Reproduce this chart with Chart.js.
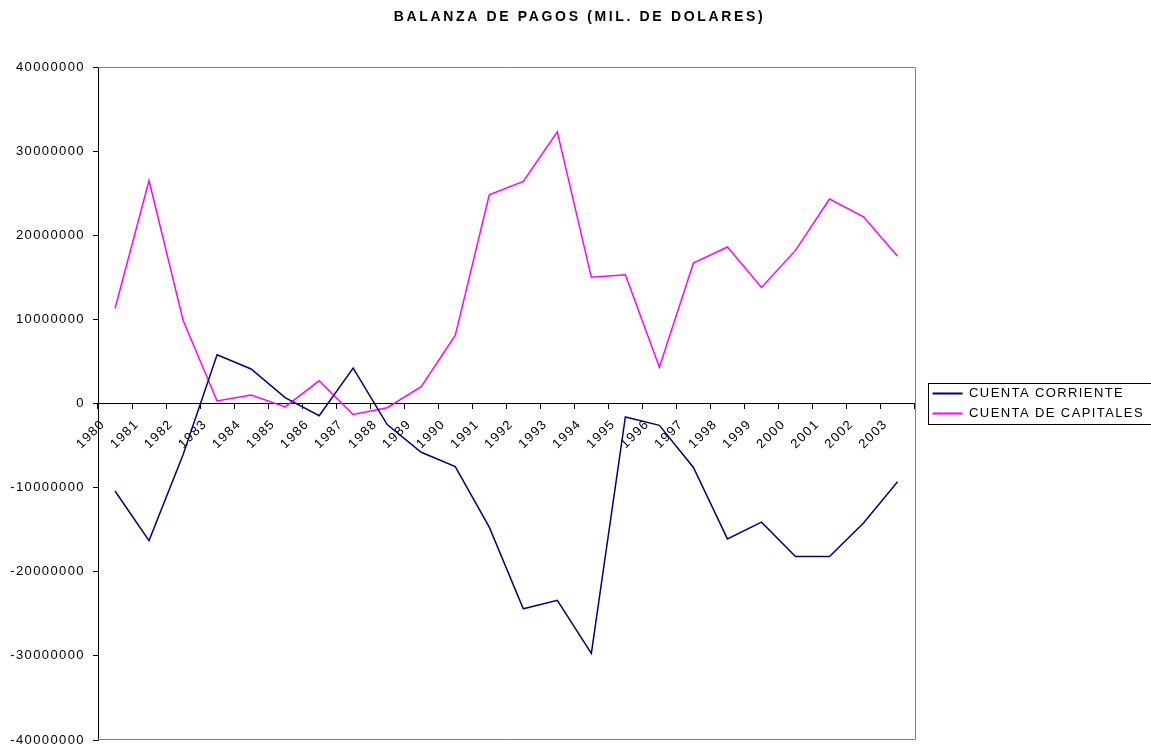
<!DOCTYPE html>
<html><head><meta charset="utf-8">
<script src="https://cdn.jsdelivr.net/npm/chart.js@4/dist/chart.umd.min.js"></script>
<style>html,body{margin:0;padding:0;background:#fff}canvas{display:block}</style>
</head><body>
<canvas id="c" width="1151" height="749" style="width:1151px;height:749px"></canvas>
<script>
const years = ['1980','1981','1982','1983','1984','1985','1986','1987','1988','1989','1990','1991',
               '1992','1993','1994','1995','1996','1997','1998','1999','2000','2001','2002','2003'];
const cuentaCorriente = [-10400000,-16300000,-6100000,5800000,4100000,700000,-1450000,4200000,-2500000,-5800000,-7500000,-14700000,
                         -24400000,-23400000,-29700000,-1600000,-2600000,-7600000,-16100000,-14100000,-18200000,-18200000,-14200000,-9300000];
const cuentaCapitales = [11300000,26500000,9900000,300000,1000000,-400000,2700000,-1300000,-500000,2000000,8100000,24800000,
                         26400000,32300000,15000000,15300000,4300000,16700000,18600000,13800000,18200000,24300000,22200000,17500000];
const yTickValues = [-40000000,-30000000,-20000000,-10000000,0,10000000,20000000,30000000,40000000];
const chartTitle = 'BALANZA DE PAGOS (MIL. DE DOLARES)';
const seriesNames = ['CUENTA CORRIENTE','CUENTA DE CAPITALES'];
const seriesColors = ['#000080','#FF00FF'];

const FONT = "'Liberation Sans', Arial, sans-serif";
const LEGEND_PAD = 7;

const excelPlugin = {
  id: 'excelLook',
  afterInit(chart) {
    const t = chart.titleBlock;
    if (t) {
      const orig = t.draw.bind(t);
      t.draw = function(area) {
        const ctx = chart.ctx;
        ctx.save();
        ctx.letterSpacing = '2.65px';
        ctx.translate(8, 0);
        orig(area);
        ctx.restore();
      };
    }
  },
  beforeUpdate(chart) { chart.ctx.letterSpacing = '1.4px'; },
  afterLayout(chart) {
    const lg = chart.legend;
    if (lg) { lg.left += 11; lg.right += 11; }
  },
  beforeDraw(chart) { chart.ctx.letterSpacing = '1.4px'; },
  beforeDatasetsDraw(chart) {
    const {ctx, chartArea: a} = chart;
    const t = Math.round(a.top) + 0.5, r = Math.round(a.right) + 0.5, b = Math.round(a.bottom) - 0.5, l = Math.round(a.left);
    ctx.save();
    ctx.strokeStyle = '#808080';
    ctx.lineWidth = 1;
    ctx.beginPath();
    ctx.moveTo(l, t); ctx.lineTo(r, t); ctx.lineTo(r, b); ctx.lineTo(l, b);
    ctx.stroke();
    ctx.restore();
  },
  afterDraw(chart) {
    const lg = chart.legend;
    if (!lg || !lg.legendHitBoxes || !lg.legendHitBoxes.length) return;
    const hb = lg.legendHitBoxes;
    const top = Math.round(hb[0].top - 4.5) + 0.5;
    const last = hb[hb.length - 1];
    const bottom = Math.round(last.top + last.height + 3.5) + 0.5;
    const left = Math.round(lg.left + LEGEND_PAD - 5) + 0.5;
    const ctx = chart.ctx;
    ctx.save();
    ctx.strokeStyle = '#000';
    ctx.lineWidth = 1;
    ctx.strokeRect(left, top, chart.width + 2 - left, bottom - top);
    ctx.restore();
  }
};

new Chart(document.getElementById('c'), {
  type: 'line',
  data: {
    labels: years,
    datasets: [
      { label: seriesNames[0], data: cuentaCorriente, borderColor: seriesColors[0], backgroundColor: seriesColors[0],
        borderWidth: 1.5, pointRadius: 0, tension: 0, fill: false },
      { label: seriesNames[1], data: cuentaCapitales, borderColor: seriesColors[1], backgroundColor: seriesColors[1],
        borderWidth: 1.5, pointRadius: 0, tension: 0, fill: false }
    ]
  },
  options: {
    responsive: false,
    animation: false,
    devicePixelRatio: 1,
    layout: { padding: { left: 0, right: 8, top: 0, bottom: 9 } },
    plugins: {
      title: { display: true, text: chartTitle, color: '#000',
               font: { family: FONT, size: 14, weight: 'bold' }, padding: { top: 8.6, bottom: 41.6 } },
      legend: {
        position: 'right', fullSize: false, align: 'center',
        labels: {
          color: '#000', font: { family: FONT, size: 13 }, boxWidth: 30, boxHeight: 2, padding: LEGEND_PAD,
          generateLabels(chart) {
            const items = Chart.defaults.plugins.legend.labels.generateLabels(chart);
            items.forEach(it => { it.fillStyle = it.strokeStyle; it.lineWidth = 0; });
            return items;
          }
        }
      },
      tooltip: { enabled: false }
    },
    scales: {
      x: {
        type: 'category', offset: true, position: { y: 0 },
        grid: { offset: true, drawOnChartArea: false, drawTicks: true, tickLength: 5, color: '#000' },
        border: { color: '#000', width: 1 },
        ticks: { autoSkip: false, minRotation: 45, maxRotation: 45, labelOffset: -12, padding: 8, color: '#000',
                 font: { family: FONT, size: 13 } },
        afterFit(s) { s.height = 0; }
      },
      y: {
        min: yTickValues[0], max: yTickValues[yTickValues.length - 1], position: 'left',
        afterBuildTicks(s) { s.ticks = yTickValues.map(v => ({ value: v })); },
        afterFit(s) { s.width = 98; s.paddingTop = 0; s.paddingBottom = 0; },
        grid: { drawOnChartArea: false, drawTicks: true, tickLength: 5, color: '#000' },
        border: { color: '#000', width: 1 },
        ticks: { padding: 8, color: '#000', font: { family: FONT, size: 13 }, callback: v => String(v) }
      }
    }
  },
  plugins: [excelPlugin]
});
</script>
</body></html>
